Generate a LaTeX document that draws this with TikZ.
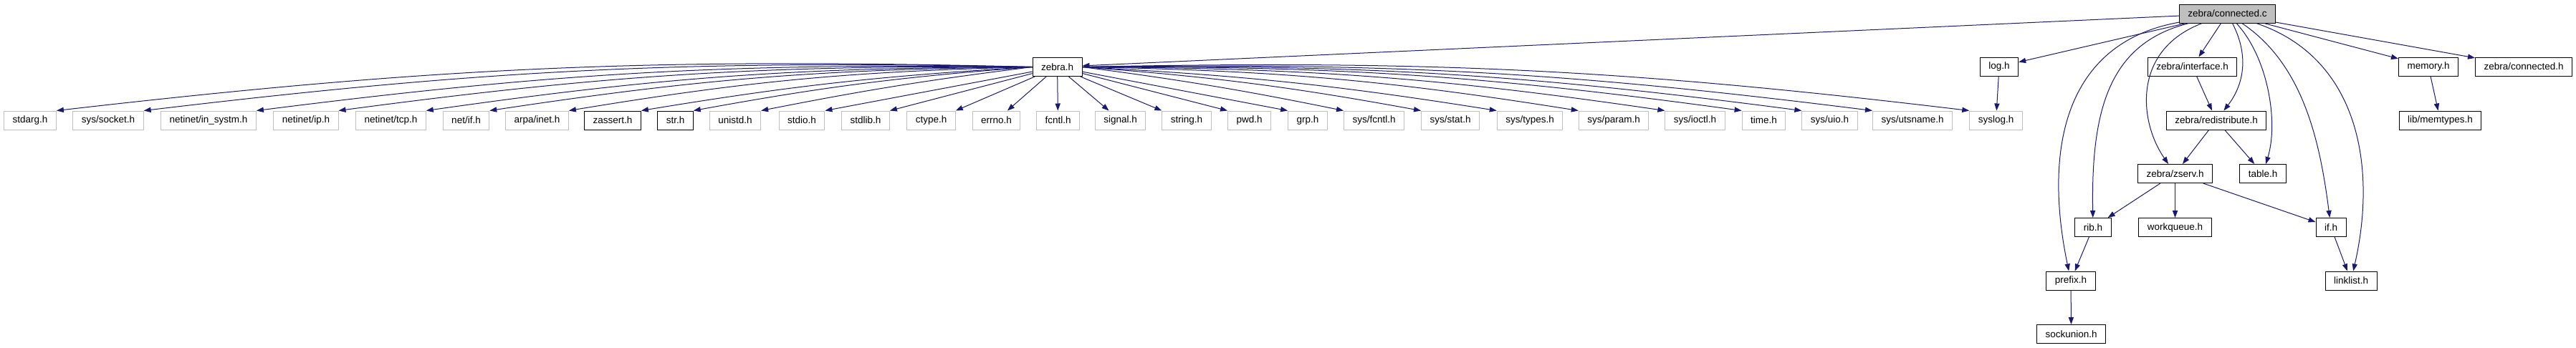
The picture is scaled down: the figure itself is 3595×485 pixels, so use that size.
\documentclass[tikz,border=0pt]{standalone}
\usepackage{fontspec}
\setmainfont{Liberation Sans}
\usetikzlibrary{arrows.meta}
\definecolor{edgeblue}{RGB}{25,25,112}
\definecolor{boxgray}{RGB}{191,191,191}

\begin{document}
\begin{tikzpicture}[x=0.25pt, y=-0.25pt, font=\fontsize{3.375}{4}\selectfont,
    hdr/.style={draw, fill=white, line width=0.25pt, inner xsep=3pt, inner ysep=0pt, minimum height=6.5pt},
    syshdr/.style={hdr, draw=boxgray},
    incl/.style={draw=edgeblue, line width=0.25pt, -{Triangle[length=2.5pt,width=1.8pt]}}]
    \useasboundingbox (0,0) rectangle (3595,485);

    % the file itself and the headers it pulls in
    \node[hdr, fill=boxgray] (cc) at (3108.5,19) {zebra/connected.c};
    \node[hdr] (zebra) at (1475.5,93.5) {zebra.h};
    \node[hdr] (log) at (2790,93) {log.h};
    \node[hdr] (iface) at (3059.5,93) {zebra/interface.h};
    \node[hdr] (memory) at (3389,93) {memory.h};
    \node[hdr] (connh) at (3522,93) {zebra/connected.h};
    \node[hdr] (redist) at (3093,168) {zebra/redistribute.h};
    \node[hdr] (memtypes) at (3405.5,168) {lib/memtypes.h};
    \node[hdr] (zserv) at (3035.5,242.5) {zebra/zserv.h};
    \node[hdr] (table) at (3158,242.5) {table.h};
    \node[hdr] (rib) at (2921,317.5) {rib.h};
    \node[hdr] (wq) at (3035.5,317.5) {workqueue.h};
    \node[hdr] (ifh) at (3253,317.5) {if.h};
    \node[hdr] (prefix) at (2890,392) {prefix.h};
    \node[hdr] (linklist) at (3281,392) {linklist.h};
    \node[hdr] (sockunion) at (2890.5,466.5) {sockunion.h};

    % row under zebra.h
    \node[syshdr] (stdarg) at (42,168) {stdarg.h};
    \node[syshdr] (socket) at (151,168) {sys/socket.h};
    \node[syshdr] (insystm) at (291,168) {netinet/in\_systm.h};
    \node[syshdr] (ip) at (427,168) {netinet/ip.h};
    \node[syshdr] (tcp) at (545.5,168) {netinet/tcp.h};
    \node[syshdr] (netif) at (650.5,168) {net/if.h};
    \node[syshdr] (inet) at (749.5,168) {arpa/inet.h};
    \node[hdr] (zassert) at (855,168) {zassert.h};
    \node[hdr] (str) at (942.5,168) {str.h};
    \node[syshdr] (unistd) at (1026,168) {unistd.h};
    \node[syshdr] (stdio) at (1119,168) {stdio.h};
    \node[syshdr] (stdlib) at (1208,168) {stdlib.h};
    \node[syshdr] (ctype) at (1299.5,168) {ctype.h};
    \node[syshdr] (errno) at (1390.5,168) {errno.h};
    \node[syshdr] (fcntl) at (1476.5,168) {fcntl.h};
    \node[syshdr] (signal) at (1563.5,168) {signal.h};
    \node[syshdr] (string) at (1656,168) {string.h};
    \node[syshdr] (pwd) at (1743.5,168) {pwd.h};
    \node[syshdr] (grp) at (1825,168) {grp.h};
    \node[syshdr] (sysfcntl) at (1917.5,168) {sys/fcntl.h};
    \node[syshdr] (sysstat) at (2024,168) {sys/stat.h};
    \node[syshdr] (systypes) at (2135,168) {sys/types.h};
    \node[syshdr] (sysparam) at (2252,168) {sys/param.h};
    \node[syshdr] (sysioctl) at (2365.5,168) {sys/ioctl.h};
    \node[syshdr] (time) at (2461.5,168) {time.h};
    \node[syshdr] (sysuio) at (2553.5,168) {sys/uio.h};
    \node[syshdr] (utsname) at (2669,168) {sys/utsname.h};
    \node[syshdr] (syslog) at (2785.5,168) {syslog.h};

    % includes of zebra/connected.c
    \draw[incl] (cc) -- (zebra);
    \draw[incl] (cc) -- (log);
    \draw[incl] (cc) -- (iface);
    \draw[incl] (cc) -- (memory);
    \draw[incl] (cc) -- (connh);
    \draw[incl] (cc) .. controls (3140,80) and (3130,120) .. (redist);
    \draw[incl] (cc) .. controls (3165,80) and (3180,170) .. (table);
    \draw[incl] (cc) .. controls (2975,70) and (2985,170) .. (zserv);
    \draw[incl] (cc) .. controls (2945,60) and (2918,150) .. (rib);
    \draw[incl] (cc) .. controls (2880,60) and (2852,210) .. (prefix);
    \draw[incl] (cc) .. controls (3215,90) and (3238,200) .. (ifh);
    \draw[incl] (cc) .. controls (3290,80) and (3318,230) .. (linklist);

    % includes of zebra.h
    \draw[incl] (zebra.west) to[bend right=4] (stdarg.north east);
    \draw[incl] (zebra.west) to[bend right=4] (socket.north east);
    \draw[incl] (zebra.west) to[bend right=4] (insystm.north east);
    \draw[incl] (zebra.west) to[bend right=4] (ip.north east);
    \draw[incl] (zebra.west) to[bend right=4] (tcp.north east);
    \draw[incl] (zebra.west) to[bend right=4] (netif.north east);
    \draw[incl] (zebra.west) to[bend right=4] (inet.north east);
    \draw[incl] (zebra.west) to[bend right=3] (zassert.north east);
    \draw[incl] (zebra.west) to[bend right=3] (str.north east);
    \draw[incl] (zebra.west) to[bend right=2] (unistd.north east);
    \draw[incl] (zebra) -- (stdio.north east);
    \draw[incl] (zebra) -- (stdlib.north east);
    \draw[incl] (zebra) -- (ctype.north east);
    \draw[incl] (zebra) -- (errno);
    \draw[incl] (zebra) -- (fcntl);
    \draw[incl] (zebra) -- (signal);
    \draw[incl] (zebra) -- (string.north west);
    \draw[incl] (zebra) -- (pwd.north west);
    \draw[incl] (zebra) -- (grp.north west);
    \draw[incl] (zebra.east) to[bend left=2] (sysfcntl.north west);
    \draw[incl] (zebra.east) to[bend left=3] (sysstat.north west);
    \draw[incl] (zebra.east) to[bend left=3] (systypes.north west);
    \draw[incl] (zebra.east) to[bend left=4] (sysparam.north west);
    \draw[incl] (zebra.east) to[bend left=4] (sysioctl.north west);
    \draw[incl] (zebra.east) to[bend left=4] (time.north west);
    \draw[incl] (zebra.east) to[bend left=4] (sysuio.north west);
    \draw[incl] (zebra.east) to[bend left=4] (utsname.north west);
    \draw[incl] (zebra.east) to[bend left=4] (syslog.north west);

    % the rest
    \draw[incl] (log) -- (syslog);
    \draw[incl] (iface) -- (redist);
    \draw[incl] (redist) -- (zserv);
    \draw[incl] (redist) -- (table);
    \draw[incl] (zserv) -- (rib);
    \draw[incl] (zserv) -- (wq);
    \draw[incl] (zserv) -- (ifh);
    \draw[incl] (rib) -- (prefix);
    \draw[incl] (prefix) -- (sockunion);
    \draw[incl] (ifh) -- (linklist);
    \draw[incl] (memory) -- (memtypes);
\end{tikzpicture}
\end{document}
